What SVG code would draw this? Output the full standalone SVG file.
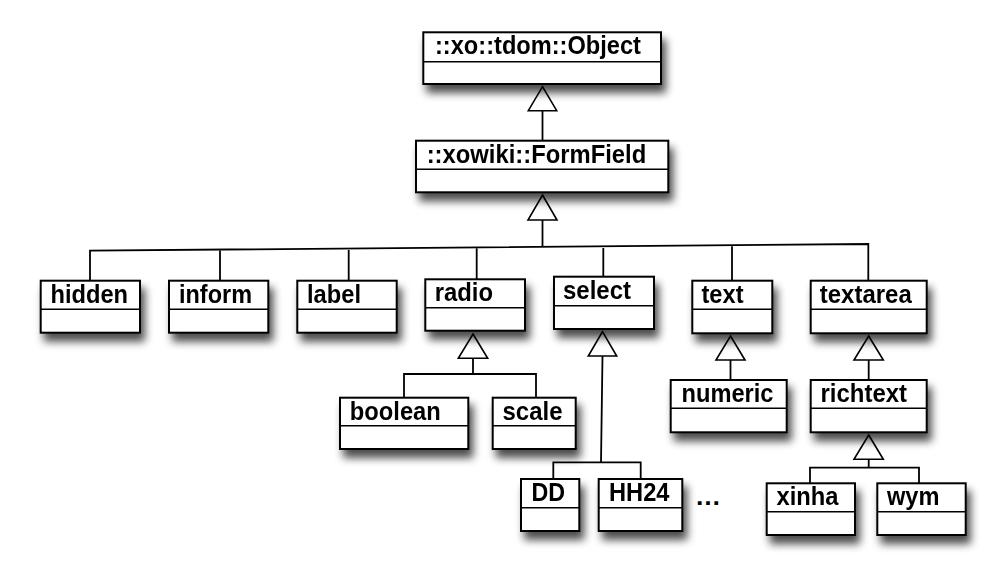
<svg xmlns="http://www.w3.org/2000/svg" width="1004" height="582" viewBox="0 0 1004 582">
<style>
.box{fill:#fff;stroke:#000;stroke-width:2}
.div{stroke:#000;stroke-width:1.6;fill:none}
.lbl{font-family:"Liberation Sans",Arial,Helvetica,sans-serif;font-weight:bold;font-size:25px;fill:#000}
.ln{fill:none;stroke:#000;stroke-width:1.8}
.tri{fill:#fff;stroke:#000;stroke-width:1.6;stroke-linejoin:miter}
</style>
<defs>
<filter id="sh" x="-20%" y="-20%" width="150%" height="180%">
<feGaussianBlur in="SourceAlpha" stdDeviation="4"/>
<feOffset dx="4" dy="8" result="b"/>
<feComponentTransfer><feFuncA type="linear" slope="0.7"/></feComponentTransfer>
<feMerge><feMergeNode/><feMergeNode in="SourceGraphic"/></feMerge>
</filter>
</defs>
<rect width="1004" height="582" fill="#fff"/>
<g id="connectors">
<path class="ln" d="M542.5 110.7V140.7M542.5 220V246.8"/>
<path class="ln" d="M90 280.7V250.7L868.3 244V280.7M220 280.7V249.6M348.7 280.7V248.5M476.7 279.3V247.4M603.3 276.7V246.3M732 280.7V245.2"/>
<path class="ln" d="M473 358.3V374M404 397.7V374H536V397.7"/>
<path class="ln" d="M602.5 356L601 462.3M553.3 479V462.3H640.7V479"/>
<path class="ln" d="M730.5 360V380M868.7 360V380"/>
<path class="ln" d="M868.7 459.3V467.7M810 483.3V467.7H919V483.3"/>
<polygon class="tri" points="542.5,86.7 556.7,110.7 528.3,110.7"/>
<polygon class="tri" points="542.5,195 557,220 528,220"/>
<polygon class="tri" points="473,334 487.7,358.3 458.3,358.3"/>
<polygon class="tri" points="602.5,331.7 616.7,356 588.3,356"/>
<polygon class="tri" points="730.5,336 745,360 716,360"/>
<polygon class="tri" points="868.7,336 883.3,360 854,360"/>
<polygon class="tri" points="868.7,435 883.3,459.3 854,459.3"/>
</g>
<g id="object" filter="url(#sh)">
<rect class="box" x="423.3" y="32.3" width="237.7" height="51.7"/>
<path class="div" d="M423.3 61.7H661"/>
<text class="lbl" x="435" y="54" textLength="206" lengthAdjust="spacingAndGlyphs">::xo::tdom::Object</text>
</g>
<g id="formfield" filter="url(#sh)">
<rect class="box" x="416" y="140.7" width="252.3" height="51.6"/>
<path class="div" d="M416 169.3H668.3"/>
<text class="lbl" x="426.7" y="162.5" textLength="219.5" lengthAdjust="spacingAndGlyphs">::xowiki::FormField</text>
</g>
<g id="hidden" filter="url(#sh)">
<rect class="box" x="40.7" y="280.7" width="99.3" height="52"/>
<path class="div" d="M40.7 309.3H140"/>
<text class="lbl" x="50.5" y="303.3" textLength="77.5" lengthAdjust="spacingAndGlyphs">hidden</text>
</g>
<g id="inform" filter="url(#sh)">
<rect class="box" x="169" y="280.7" width="99.3" height="52"/>
<path class="div" d="M169 309.3H268.3"/>
<text class="lbl" x="179" y="303.3" textLength="73" lengthAdjust="spacingAndGlyphs">inform</text>
</g>
<g id="label" filter="url(#sh)">
<rect class="box" x="297.3" y="280.7" width="99.4" height="52"/>
<path class="div" d="M297.3 309.3H396.7"/>
<text class="lbl" x="307" y="303.3" textLength="54" lengthAdjust="spacingAndGlyphs">label</text>
</g>
<g id="radio" filter="url(#sh)">
<rect class="box" x="425.3" y="279.3" width="99.7" height="51.4"/>
<path class="div" d="M425.3 307.7H525"/>
<text class="lbl" x="434.7" y="301" textLength="58.3" lengthAdjust="spacingAndGlyphs">radio</text>
</g>
<g id="select" filter="url(#sh)">
<rect class="box" x="554" y="276.7" width="100" height="52.3"/>
<path class="div" d="M554 305.7H654"/>
<text class="lbl" x="563" y="299" textLength="68" lengthAdjust="spacingAndGlyphs">select</text>
</g>
<g id="text" filter="url(#sh)">
<rect class="box" x="692.3" y="280.7" width="80" height="52.6"/>
<path class="div" d="M692.3 309.3H772.3"/>
<text class="lbl" x="701.5" y="303.3" textLength="42" lengthAdjust="spacingAndGlyphs">text</text>
</g>
<g id="textarea" filter="url(#sh)">
<rect class="box" x="810.7" y="280.7" width="116" height="52.6"/>
<path class="div" d="M810.7 309.3H926.7"/>
<text class="lbl" x="819.8" y="303.3" textLength="92" lengthAdjust="spacingAndGlyphs">textarea</text>
</g>
<g id="boolean" filter="url(#sh)">
<rect class="box" x="340" y="397.7" width="128.3" height="51.3"/>
<path class="div" d="M340 425.7H468.3"/>
<text class="lbl" x="349.8" y="419.8" textLength="91" lengthAdjust="spacingAndGlyphs">boolean</text>
</g>
<g id="scale" filter="url(#sh)">
<rect class="box" x="492.7" y="397.7" width="83" height="51.3"/>
<path class="div" d="M492.7 425.7H575.7"/>
<text class="lbl" x="502.5" y="419.8" textLength="60" lengthAdjust="spacingAndGlyphs">scale</text>
</g>
<g id="dd" filter="url(#sh)">
<rect class="box" x="521" y="479" width="58.3" height="52"/>
<path class="div" d="M521 507.7H579.3"/>
<text class="lbl" x="531.5" y="501.2" textLength="33.6" lengthAdjust="spacingAndGlyphs">DD</text>
</g>
<g id="hh24" filter="url(#sh)">
<rect class="box" x="598.7" y="479" width="83.6" height="52"/>
<path class="div" d="M598.7 507.7H682.3"/>
<text class="lbl" x="609" y="501.2" textLength="60.5" lengthAdjust="spacingAndGlyphs">HH24</text>
</g>
<g id="ellipsis">
<text class="lbl" x="695" y="505" textLength="26" lengthAdjust="spacingAndGlyphs">…</text>
</g>
<g id="numeric" filter="url(#sh)">
<rect class="box" x="670.7" y="380" width="116" height="52.3"/>
<path class="div" d="M670.7 408.3H786.7"/>
<text class="lbl" x="681.5" y="401.5" textLength="92" lengthAdjust="spacingAndGlyphs">numeric</text>
</g>
<g id="richtext" filter="url(#sh)">
<rect class="box" x="810.7" y="380" width="116" height="52.3"/>
<path class="div" d="M810.7 408.3H926.7"/>
<text class="lbl" x="820.5" y="401.5" textLength="86.5" lengthAdjust="spacingAndGlyphs">richtext</text>
</g>
<g id="xinha" filter="url(#sh)">
<rect class="box" x="766.7" y="483.3" width="88.3" height="51.7"/>
<path class="div" d="M766.7 511.7H855"/>
<text class="lbl" x="776.5" y="504.5" textLength="62" lengthAdjust="spacingAndGlyphs">xinha</text>
</g>
<g id="wym" filter="url(#sh)">
<rect class="box" x="877.3" y="483.3" width="88.4" height="51.7"/>
<path class="div" d="M877.3 511.7H965.7"/>
<text class="lbl" x="887" y="504.5" textLength="52.5" lengthAdjust="spacingAndGlyphs">wym</text>
</g>
</svg>
